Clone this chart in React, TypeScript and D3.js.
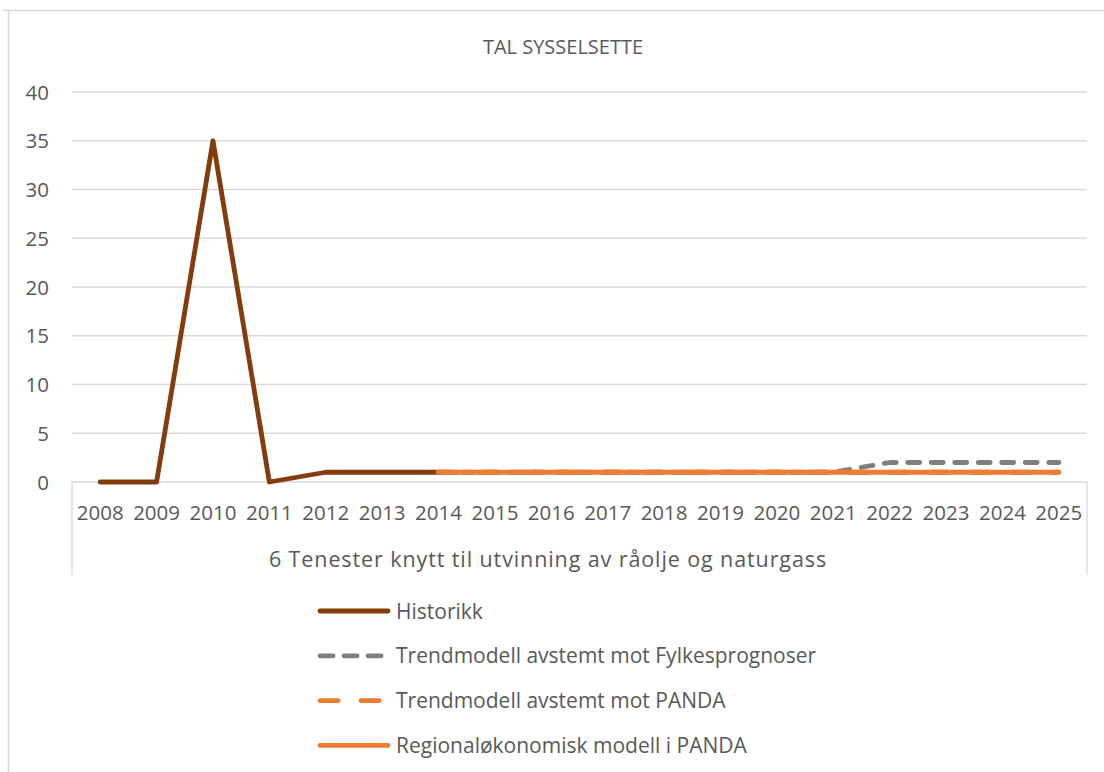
import { useEffect, useRef } from "react"
import * as d3 from "d3"

const years = ["2008", "2009", "2010", "2011", "2012", "2013", "2014", "2015", "2016", "2017", "2018", "2019", "2020", "2021", "2022", "2023", "2024", "2025"]
const historikk = [0, 0, 35, 0, 1, 1, 1]
const trendFylke = [1, 1, 1, 1, 1, 1, 1, 1, 2, 2, 2, 2]
const trendPanda = [1, 1, 1, 1, 1, 1, 1, 1, 1, 1, 1, 1]
const regionalPanda = [1, 1, 1, 1, 1, 1, 1, 1, 1, 1, 1, 1]
const yTicks = [0, 5, 10, 15, 20, 25, 30, 35, 40]
const groupLabel = "6 Tenester knytt til utvinning av råolje og naturgass"
const title = "TAL SYSSELSETTE"

const series = [
  { name: "Historikk", start: "2008", values: historikk, color: "#843C0C", dash: null, legendDash: null },
  { name: "Trendmodell avstemt mot Fylkesprognoser", start: "2014", values: trendFylke, color: "#7F7F7F", dash: "12,11.5", legendDash: "13.2,10.8" },
  { name: "Trendmodell avstemt mot PANDA", start: "2014", values: trendPanda, color: "#ED7D31", dash: "18.2,22.8", legendDash: "18.2,22.8" },
  { name: "Regionaløkonomisk modell i PANDA", start: "2014", values: regionalPanda, color: "#ED7D31", dash: null, legendDash: null },
]

const App = () => {
  const svgRef = useRef(null)

  useEffect(() => {
    const width = 1104
    const height = 772
    const left = 72
    const right = 1087
    const top = 92
    const bottom = 482
    const font = "'Open Sans', sans-serif"
    const textColor = "#595959"

    const svg = d3.select(svgRef.current)
    svg.selectAll("*").remove()
    svg.attr("width", width).attr("height", height)

    // outer chart frame
    svg.append("path").attr("d", `M3,10.5H${width}M8.5,10V${height}`).attr("fill", "none").attr("stroke", "#d9d9d9").attr("stroke-width", 1.5)

    const x = d3.scaleBand().domain(years).range([left, right])
    const y = d3.scaleLinear().domain([0, 40]).range([bottom, top])

    svg.append("text").attr("x", 563).attr("y", 54).attr("text-anchor", "middle").attr("font-family", font).attr("font-size", 20).attr("fill", textColor).text(title)

    // gridlines
    svg
      .selectAll(".grid")
      .data(yTicks.filter((d) => d > 0))
      .enter()
      .append("line")
      .attr("x1", left)
      .attr("x2", right)
      .attr("y1", (d) => y(d))
      .attr("y2", (d) => y(d))
      .attr("stroke", "#d9d9d9")
      .attr("stroke-width", 1.3)

    svg
      .selectAll(".ylab")
      .data(yTicks)
      .enter()
      .append("text")
      .attr("x", 49)
      .attr("y", (d) => y(d) + 7.5)
      .attr("text-anchor", "end")
      .attr("font-family", font)
      .attr("font-size", 20.5)
      .attr("fill", textColor)
      .text((d) => d)

    // category axis with group box
    svg
      .append("path")
      .attr("d", `M${left},575V${bottom}H${right}V575`)
      .attr("fill", "none")
      .attr("stroke", "#d9d9d9")
      .attr("stroke-width", 1.3)

    svg
      .selectAll(".xlab")
      .data(years)
      .enter()
      .append("text")
      .attr("x", (d) => x(d) + x.bandwidth() / 2)
      .attr("y", 520)
      .attr("text-anchor", "middle")
      .attr("font-family", font)
      .attr("font-size", 20.5)
      .attr("fill", textColor)
      .text((d) => d)

    svg
      .append("text")
      .attr("x", 548)
      .attr("y", 567)
      .attr("text-anchor", "middle")
      .attr("font-family", font)
      .attr("font-size", 21.5)
      .attr("letter-spacing", 0.9)
      .attr("fill", textColor)
      .text(groupLabel)

    // lines
    const line = d3
      .line()
      .x((d) => d[0])
      .y((d) => d[1])

    series.forEach((s) => {
      const i0 = years.indexOf(s.start)
      const pts = s.values.map((v, i) => [x(years[i0 + i]) + x.bandwidth() / 2, y(v)])
      svg
        .append("path")
        .attr("d", line(pts))
        .attr("fill", "none")
        .attr("stroke", s.color)
        .attr("stroke-width", 4.8)
        .attr("stroke-linejoin", "round")
        .attr("stroke-linecap", "round")
        .attr("stroke-dasharray", s.dash)
    })

    // legend
    const legend = svg
      .selectAll(".legend")
      .data(series)
      .enter()
      .append("g")
      .attr("transform", (d, i) => `translate(320,${611 + i * 44.8})`)

    legend
      .append("line")
      .attr("x1", 0)
      .attr("x2", 68)
      .attr("stroke", (d) => d.color)
      .attr("stroke-width", 4.8)
      .attr("stroke-linecap", "round")
      .attr("stroke-dasharray", (d) => d.legendDash)

    legend
      .append("text")
      .attr("x", 76)
      .attr("y", 7.5)
      .attr("font-family", font)
      .attr("font-size", 21)
      .attr("fill", textColor)
      .text((d) => d.name)
  }, [])

  return (
    <div style={{ position: "absolute", left: 0, top: 0 }}>
      <svg ref={svgRef}></svg>
    </div>
  )
}

export default App
